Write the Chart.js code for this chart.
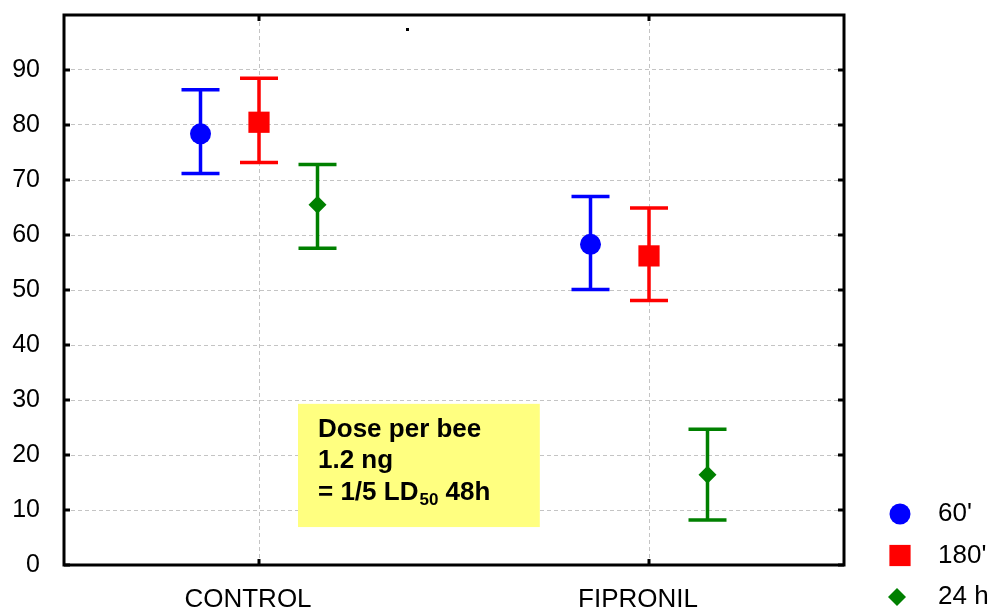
<!DOCTYPE html>
<html>
<head>
<meta charset="utf-8">
<script src="https://cdn.jsdelivr.net/npm/chart.js@4.4.0/dist/chart.umd.min.js"></script>
<style>
  html, body { margin: 0; padding: 0; background: #fff; }
  #wrap { width: 991px; height: 612px; }
</style>
</head>
<body>
<div id="wrap"><canvas id="chart"></canvas></div>
<script>
// Values (mean with lower / upper whisker)
const categories = ['CONTROL', 'FIPRONIL'];
const seriesNames = ["60'", "180'", '24 h'];
const mean60 = [78.4, 58.3];
const low60 = [71.2, 50.1];
const high60 = [86.4, 67.0];
const mean180 = [80.5, 56.2];
const low180 = [73.2, 48.1];
const high180 = [88.5, 64.9];
const mean24h = [65.5, 16.4];
const low24h = [57.6, 8.2];
const high24h = [72.8, 24.7];
const yTicks = [0, 10, 20, 30, 40, 50, 60, 70, 80, 90];

const COLORS = { blue: '#0000ff', red: '#ff0000', green: '#008000', grid: '#c4c4c4', box: '#ffff80' };
const FONT = "'Liberation Sans', Arial, sans-serif";

// series shift from the category centre (x units, category = 2 units apart)
const SHIFT = [-0.3, 0, 0.3];
const catX = i => 2 * i + 1;

const series = [
  { name: seriesNames[0], mean: mean60, low: low60, high: high60, color: COLORS.blue, style: 'circle', r: 10.5 },
  { name: seriesNames[1], mean: mean180, low: low180, high: high180, color: COLORS.red, style: 'rect', r: 15 },
  { name: seriesNames[2], mean: mean24h, low: low24h, high: high24h, color: COLORS.green, style: 'rectRot', r: 9 }
];

const errorBars = {
  id: 'errorBars',
  beforeDatasetsDraw(chart) {
    const { ctx, scales: { x, y } } = chart;
    ctx.save();
    // annotation box
    const bx0 = x.getPixelForValue(1.2), bx1 = x.getPixelForValue(2.44);
    const by0 = y.getPixelForValue(29.3), by1 = y.getPixelForValue(6.9);
    ctx.fillStyle = COLORS.box;
    ctx.fillRect(bx0, by0, bx1 - bx0, by1 - by0);
    ctx.fillStyle = '#000';
    ctx.font = 'bold 26px ' + FONT;
    ctx.textBaseline = 'alphabetic';
    ctx.textAlign = 'left';
    const tx = bx0 + 20;
    ctx.fillText('Dose per bee', tx, by0 + 33);
    ctx.fillText('1.2 ng', tx, by0 + 64);
    let s = '= 1/5 LD';
    ctx.fillText(s, tx, by0 + 96);
    let w = ctx.measureText(s).width;
    ctx.font = 'bold 17px ' + FONT;
    ctx.fillText('50', tx + w + 1, by0 + 101);
    w += ctx.measureText('50').width + 1;
    ctx.font = 'bold 26px ' + FONT;
    ctx.fillText(' 48h', tx + w, by0 + 96);

    // whiskers
    ctx.lineWidth = 3.5;
    ctx.lineCap = 'butt';
    series.forEach((sr, di) => {
      const meta = chart.getDatasetMeta(di);
      meta.data.forEach((pt, i) => {
        const px = pt.x;
        const yl = y.getPixelForValue(sr.low[i]);
        const yh = y.getPixelForValue(sr.high[i]);
        ctx.strokeStyle = sr.color;
        ctx.beginPath();
        ctx.moveTo(px, yl); ctx.lineTo(px, yh);
        ctx.moveTo(px - 19, yl); ctx.lineTo(px + 19, yl);
        ctx.moveTo(px - 19, yh); ctx.lineTo(px + 19, yh);
        ctx.stroke();
      });
    });
    ctx.restore();
  },
  afterDraw(chart) {
    const { ctx, chartArea: a, scales: { x, y } } = chart;
    ctx.save();
    // frame with inward ticks
    ctx.strokeStyle = '#000';
    ctx.lineWidth = 3;
    ctx.strokeRect(a.left, a.top, a.right - a.left, a.bottom - a.top);
    ctx.beginPath();
    yTicks.forEach(v => {
      const py = y.getPixelForValue(v);
      ctx.moveTo(a.left, py); ctx.lineTo(a.left + 6, py);
      ctx.moveTo(a.right, py); ctx.lineTo(a.right - 6, py);
    });
    categories.forEach((c, i) => {
      const px = x.getPixelForValue(catX(i));
      ctx.moveTo(px, a.top); ctx.lineTo(px, a.top + 6);
      ctx.moveTo(px, a.bottom); ctx.lineTo(px, a.bottom - 6);
    });
    ctx.stroke();
    ctx.fillStyle = '#000';
    ctx.fillRect(406, 28, 3, 3);

    // legend
    const lx = a.right + 56, ly = 514, gap = 41.5;
    series.forEach((sr, i) => {
      const py = ly + i * gap;
      ctx.fillStyle = sr.color;
      Chart.helpers.drawPoint(ctx, { pointStyle: sr.style, radius: sr.r, rotation: 0, borderWidth: 0 }, lx - (sr.style === 'rectRot' ? 3 : 0), py);
      ctx.fillStyle = '#000';
      ctx.font = '26px ' + FONT;
      ctx.textBaseline = 'middle';
      ctx.textAlign = 'left';
      ctx.fillText(sr.name, lx + 38, py);
    });
    ctx.restore();
  }
};

new Chart(document.getElementById('chart'), {
  type: 'scatter',
  data: {
    datasets: series.map((sr, di) => ({
      label: sr.name,
      data: categories.map((c, i) => ({ x: catX(i) + SHIFT[di], y: sr.mean[i] })),
      backgroundColor: sr.color,
      borderColor: sr.color,
      borderWidth: 0,
      pointStyle: sr.style,
      pointRadius: sr.r,
      pointHoverRadius: sr.r
    }))
  },
  options: {
    responsive: true,
    maintainAspectRatio: false,
    animation: false,
    layout: { padding: { top: 15, right: 147, bottom: 0, left: 0 } },
    plugins: { legend: { display: false }, tooltip: { enabled: false } },
    scales: {
      x: {
        type: 'linear',
        min: 0,
        max: 4,
        afterBuildTicks: s => { s.ticks = categories.map((c, i) => ({ value: catX(i) })); },
        afterFit: s => { s.height = 47; s.paddingLeft = 0; s.paddingRight = 0; },
        grid: { color: COLORS.grid, drawTicks: false },
        border: { display: false, dash: [4, 3] },
        ticks: {
          padding: 19,
          labelOffset: -11,
          color: '#000',
          font: { family: FONT, size: 26 },
          callback: v => categories[(v - 1) / 2]
        }
      },
      y: {
        min: 0,
        max: 100,
        afterBuildTicks: s => { s.ticks = yTicks.map(v => ({ value: v })); },
        afterFit: s => { s.width = 64; s.paddingTop = 0; s.paddingBottom = 0; },
        grid: { color: COLORS.grid, drawTicks: false },
        border: { display: false, dash: [4, 3] },
        ticks: {
          padding: 24,
          color: '#000',
          font: { family: FONT, size: 25 }
        }
      }
    }
  },
  plugins: [errorBars]
});
</script>
</body>
</html>
